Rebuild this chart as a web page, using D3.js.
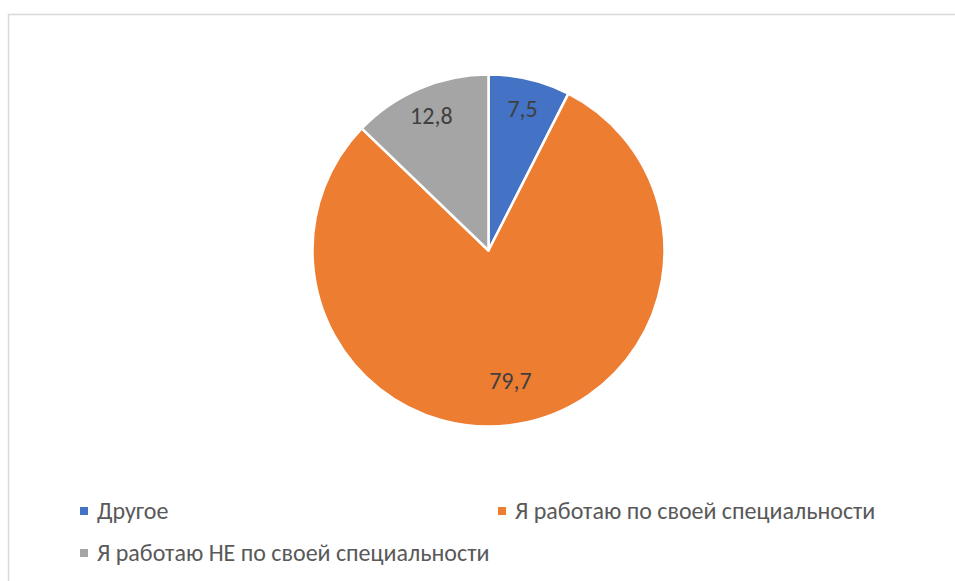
<!DOCTYPE html>
<html><head><meta charset="utf-8">
<script src="https://cdn.jsdelivr.net/npm/d3@7"></script>
<style>body{margin:0;background:#fff}svg{display:block}</style>
</head><body>
<svg id="c" width="955" height="581"></svg>
<script>
const categories = ["Другое", "Я работаю по своей специальности", "Я работаю НЕ по своей специальности"];
const values = [7.5, 79.7, 12.8];
const labels = ["7,5", "79,7", "12,8"];
const colors = ["#4472C4", "#ED7D31", "#A5A5A5"];

const svg = d3.select("#c");
svg.append("rect").attr("x", 8.5).attr("y", 14.5).attr("width", 960).attr("height", 600)
  .attr("fill", "#fff").attr("stroke", "#d9d9d9").attr("stroke-width", 1.5);

const cx = 488.5, cy = 250.5, r = 176;
const pie = d3.pie().sort(null).value(d => d)(values);
const arc = d3.arc().innerRadius(0).outerRadius(r);
const g = svg.append("g").attr("transform", `translate(${cx},${cy})`);
g.selectAll("path").data(pie).join("path")
  .attr("d", arc).attr("fill", (d, i) => colors[i])
  .attr("stroke", "#fff").attr("stroke-width", 2.5).attr("stroke-linejoin", "round");

const labelR = d => (d.endAngle - d.startAngle > Math.PI ? 0.75 : 0.83) * r;
g.selectAll("text").data(pie).join("text")
  .attr("transform", d => `translate(${d3.arc().innerRadius(labelR(d)).outerRadius(labelR(d)).centroid(d)})`)
  .attr("text-anchor", "middle").attr("dy", "0.35em")
  .attr("font-family", "Carlito, 'Open Sans', sans-serif").attr("font-size", 24)
  .attr("fill", "#404040").text((d, i) => labels[i]);

const legendPos = [[80, 511], [498, 511], [80, 553]];
const lg = svg.append("g");
categories.forEach((c, i) => {
  const [x, y] = legendPos[i];
  lg.append("rect").attr("x", x).attr("y", y - 4).attr("width", 8).attr("height", 8).attr("fill", colors[i]);
  lg.append("text").attr("x", x + 17).attr("y", y).attr("dy", "0.35em")
    .attr("font-family", "Carlito, 'Open Sans', sans-serif").attr("font-size", 24)
    .attr("fill", "#595959").text(c);
});
</script>
</body></html>
